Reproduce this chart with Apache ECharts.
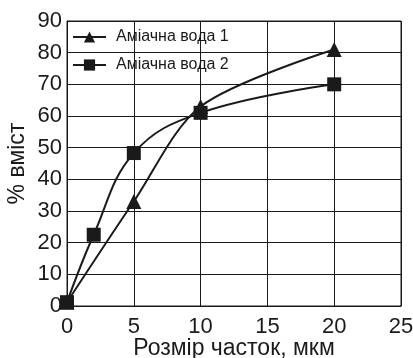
<!DOCTYPE html>
<html>
<head>
<meta charset="utf-8">
<script src="https://cdn.jsdelivr.net/npm/echarts@6/dist/echarts.min.js"></script>
<style>
  html, body { margin: 0; padding: 0; background: #fff; }
  #chart { width: 413px; height: 358px; }
</style>
</head>
<body>
<div id="chart"></div>
<script>
// Particle size (µm) vs. content (%) for two ammonia water samples
const seriesNames = ['Аміачна вода 1', 'Аміачна вода 2'];
const sizes1 = [0, 5, 10, 20];
const values1 = [1.2, 33, 63, 81];
const sizes2 = [0, 2, 5, 10, 20];
const values2 = [1.2, 22.5, 48.3, 61, 70];
const xTicks = [0, 5, 10, 15, 20, 25];
const yTicks = [0, 10, 20, 30, 40, 50, 60, 70, 80, 90];

const font = 'Liberation Sans, Arial, sans-serif';
const ink = '#1a1a1a';

const chart = echarts.init(document.getElementById('chart'), null, { renderer: 'canvas' });

function pairs(xs, ys) { return xs.map((x, i) => [x, ys[i]]); }

chart.setOption({
  backgroundColor: '#fff',
  animation: false,
  grid: {
    left: 67, right: 12, top: 21, bottom: 52,
    containLabel: false,
    outerBoundsMode: 'none',
    show: true, borderColor: ink, borderWidth: 1
  },
  legend: {
    orient: 'vertical',
    left: 72,
    top: 29,
    padding: 0,
    itemGap: 12,
    itemWidth: 33,
    itemHeight: 14,
    textStyle: { fontFamily: font, fontSize: 16, color: ink, padding: [0, 0, 0, 5] },
    data: seriesNames
  },
  xAxis: {
    type: 'value',
    min: xTicks[0], max: xTicks[xTicks.length - 1], interval: 5,
    name: 'Розмір часток, мкм',
    nameLocation: 'middle',
    nameMoveOverlap: false,
    nameGap: 31,
    nameTextStyle: { fontFamily: font, fontSize: 23, color: ink },
    axisLine: { show: true, lineStyle: { color: ink, width: 1 } },
    axisTick: { show: false },
    axisLabel: { fontFamily: font, fontSize: 22, color: ink, margin: 10 },
    splitLine: { show: true, lineStyle: { color: ink, width: 1 } }
  },
  yAxis: {
    type: 'value',
    min: yTicks[0], max: yTicks[yTicks.length - 1], interval: 10,
    name: '% вміст',
    nameLocation: 'middle',
    nameMoveOverlap: false,
    nameGap: 38,
    nameRotate: 90,
    nameTextStyle: { fontFamily: font, fontSize: 23, color: ink },
    axisLine: { show: true, lineStyle: { color: ink, width: 1 } },
    axisTick: { show: false },
    axisLabel: { fontFamily: font, fontSize: 22, color: ink, margin: 5 },
    splitLine: { show: true, lineStyle: { color: ink, width: 1 } }
  },
  series: [
    {
      name: seriesNames[0],
      type: 'line',
      data: pairs(sizes1, values1),
      smooth: 0.3,
      symbol: 'triangle',
      symbolSize: 15,
      lineStyle: { color: ink, width: 2 },
      itemStyle: { color: ink }
    },
    {
      name: seriesNames[1],
      type: 'line',
      data: pairs(sizes2, values2),
      smooth: 0.4,
      symbol: 'rect',
      symbolSize: 14,
      lineStyle: { color: ink, width: 2 },
      itemStyle: { color: ink }
    }
  ]
});
</script>
</body>
</html>
